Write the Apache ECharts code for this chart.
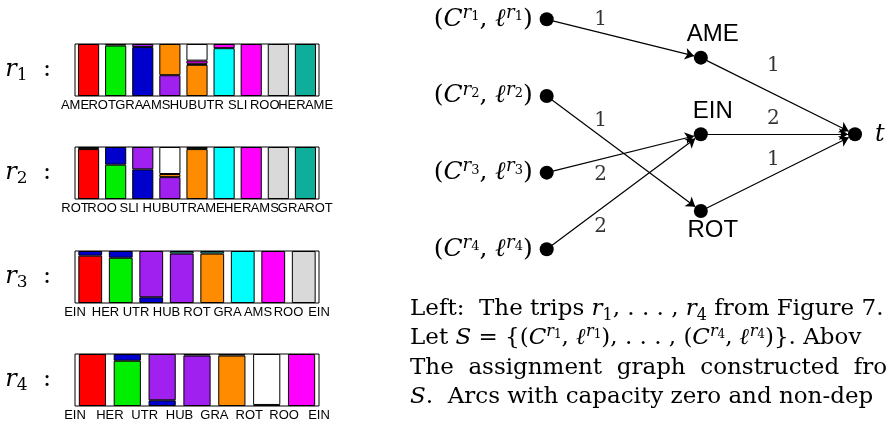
<!DOCTYPE html>
<html>
<head>
<meta charset="utf-8">
<script src="https://cdn.jsdelivr.net/npm/echarts@6/dist/echarts.min.js"></script>
<style>
html, body { margin: 0; padding: 0; background: #fff; }
#chart { width: 889px; height: 427px; }
</style>
</head>
<body>
<div id="chart"></div>
<script>
// trips: stations passed, and for every leg the stacked shares (bottom to top)
const r1Stops = ['AME', 'ROT', 'GRA', 'AMS', 'HUB', 'UTR', 'SLI', 'ROO', 'HER', 'AME'];
const r1Legs = [
  [['red', 1]],
  [['green', 0.97], ['purple', 0.03]],
  [['blue', 0.94], ['purple', 0.06]],
  [['purple', 0.4], ['orange', 0.6]],
  [['orange', 0.6], ['cyan', 0.02], ['magenta', 0.06], ['white', 0.32]],
  [['cyan', 0.92], ['magenta', 0.08]],
  [['magenta', 1]],
  [['gray', 1]],
  [['teal', 1]]
];
const r2Stops = ['ROT', 'ROO', 'SLI', 'HUB', 'UTR', 'AME', 'HER', 'AMS', 'GRA', 'ROT'];
const r2Legs = [
  [['red', 0.96], ['teal', 0.04]],
  [['green', 0.66], ['blue', 0.34]],
  [['blue', 0.57], ['purple', 0.43]],
  [['purple', 0.42], ['orange', 0.06], ['white', 0.52]],
  [['orange', 0.96], ['teal', 0.04]],
  [['cyan', 1]],
  [['magenta', 1]],
  [['gray', 1]],
  [['teal', 1]]
];
const r3Stops = ['EIN', 'HER', 'UTR', 'HUB', 'ROT', 'GRA', 'AMS', 'ROO', 'EIN'];
const r3Legs = [
  [['red', 0.91], ['blue', 0.09]],
  [['green', 0.87], ['blue', 0.13]],
  [['blue', 0.11], ['purple', 0.89]],
  [['purple', 0.95], ['teal', 0.05]],
  [['orange', 0.95], ['teal', 0.05]],
  [['cyan', 1]],
  [['magenta', 1]],
  [['gray', 1]]
];
const r4Stops = ['EIN', 'HER', 'UTR', 'HUB', 'GRA', 'ROT', 'ROO', 'EIN'];
const r4Legs = [
  [['red', 1]],
  [['green', 0.87], ['blue', 0.13]],
  [['blue', 0.11], ['purple', 0.89]],
  [['purple', 0.97], ['teal', 0.03]],
  [['orange', 0.97], ['teal', 0.03]],
  [['teal', 0.02], ['white', 0.98]],
  [['magenta', 1]]
];

// stacking order of the classes, and their colours
const classKeys = ['red', 'green', 'blue', 'purple', 'orange', 'cyan', 'magenta', 'gray', 'teal', 'white'];
const classColors = ['#ff0000', '#00ee00', '#0000cd', '#a020f0', '#ff8c00', '#00ffff', '#ff00ff', '#d9d9d9', '#0fae9b', '#ffffff'];

// assignment graph
const nodeNames = ['s1', 's2', 's3', 's4', 'AME', 'EIN', 'ROT', 't'];
const nodeCol = [0, 0, 0, 0, 1, 1, 1, 2];
const nodeRow = [0, 1, 2, 3, 0.5, 1.5, 2.5, 1.5];
const arcFrom = ['s1', 's2', 's3', 's4', 'AME', 'EIN', 'ROT'];
const arcTo = ['AME', 'ROT', 'EIN', 'EIN', 't', 't', 't'];
const arcCap = [1, 1, 2, 2, 1, 2, 1];

// where the capacity labels sit: share along the arc, then a pixel shift
const capLabelAt = [0.35, 0.35, 0.35, 0.35, 0.47, 0.47, 0.47];
const capLabelShift = [[0, -13], [0, -15], [0, 16], [0, 18], [0, -28], [0, -16], [0, -15]];

const serif = '"DejaVu Serif", "Liberation Serif", serif';
const sans = '"Liberation Sans", Arial, sans-serif';

// rich styles for the little bits of maths, scaled to a base size
function makeRich(s, lh) {
  return {
    n: { fontFamily: serif, fontSize: s, lineHeight: lh, color: '#000' },
    i: { fontFamily: serif, fontSize: s, fontStyle: 'italic', lineHeight: lh, color: '#000' },
    b: { fontFamily: serif, fontSize: s, fontStyle: 'italic', fontWeight: 'bold', lineHeight: lh, color: '#000' },
    sup: { fontFamily: serif, fontSize: Math.round(s * 0.7), fontStyle: 'italic', lineHeight: Math.round(s * 0.75), verticalAlign: 'top', color: '#000' },
    ss: { fontFamily: serif, fontSize: Math.round(s * 0.52), lineHeight: Math.round(s * 0.56), verticalAlign: 'top', padding: [Math.round(s * 0.22), 0, 0, 0], color: '#000' },
    sub: { fontFamily: serif, fontSize: Math.round(s * 0.7), lineHeight: Math.round(s * 0.75), verticalAlign: 'bottom', color: '#000' }
  };
}
const nodeRich = makeRich(25, 30);
const rowRich = makeRich(24, 28);
const captionRich = makeRich(23, 30);

const pair = k => '{i|C}{sup|r}{ss|' + k + '}{n|, }{b|ℓ}{sup|r}{ss|' + k + '}';

const chart = echarts.init(document.getElementById('chart'));

const trips = [
  { stops: r1Stops, legs: r1Legs },
  { stops: r2Stops, legs: r2Legs },
  { stops: r3Stops, legs: r3Legs },
  { stops: r4Stops, legs: r4Legs }
];
const panelTop = [44, 147, 251, 354];

const grid = [];
const xAxis = [];
const yAxis = [];
const series = [];

trips.forEach((trip, k) => {
  grid.push({ left: 75, top: panelTop[k], width: 244, height: 52, show: true, borderColor: '#000', borderWidth: 1 });
  xAxis.push({ type: 'category', gridIndex: k, data: trip.legs.map((_, i) => i), show: false });
  xAxis.push({
    type: 'category', gridIndex: k, position: 'bottom', boundaryGap: false, data: trip.stops,
    axisLine: { show: false }, axisTick: { show: false }, splitLine: { show: false },
    axisLabel: { interval: 0, margin: 3, fontSize: 13, fontFamily: sans, color: '#000' }
  });
  yAxis.push({
    type: 'value', gridIndex: k, min: 0, max: 1,
    axisLine: { show: false }, axisTick: { show: false }, axisLabel: { show: false }, splitLine: { show: false },
    name: '{i|r}{sub|' + (k + 1) + '}{n|  :}', nameLocation: 'middle', nameRotate: 0, nameGap: 24,
    nameTextStyle: { rich: rowRich }
  });
  classKeys.forEach((c, j) => {
    const vals = trip.legs.map(leg => {
      const seg = leg.find(s => s[0] === c);
      return seg ? seg[1] : '-';
    });
    if (vals.every(v => v === '-')) return;
    series.push({
      type: 'bar', name: c, xAxisIndex: 2 * k, yAxisIndex: k, stack: 'trip' + k,
      data: vals, barCategoryGap: '22%', silent: true,
      itemStyle: { color: classColors[j], borderColor: '#000', borderWidth: 1 }
    });
  });
});

// graph panel
grid.push({ left: 546.7, top: 19.3, width: 308.3, height: 230 });
xAxis.push({ type: 'value', gridIndex: 4, min: 0, max: 2, show: false });
yAxis.push({ type: 'value', gridIndex: 4, min: 0, max: 3, inverse: true, show: false });

const nodeLabel = name => {
  if (name[0] === 's') {
    return {
      position: 'left', distance: 7, rich: nodeRich,
      formatter: '{n|(}' + pair(name.slice(1)) + '{n|)}'
    };
  }
  if (name === 't') {
    return { position: 'right', distance: 13, fontFamily: serif, fontStyle: 'italic', fontSize: 24, color: '#000' };
  }
  return {
    position: name === 'ROT' ? 'bottom' : 'top', distance: name === 'ROT' ? 0 : 4, offset: [12, 0],
    fontFamily: sans, fontSize: 24, color: '#000'
  };
};

series.push({
  type: 'graph', coordinateSystem: 'cartesian2d', xAxisIndex: 8, yAxisIndex: 4,
  symbol: 'circle', symbolSize: 14, silent: true,
  itemStyle: { color: '#000' },
  edgeSymbol: ['none', 'arrow'], edgeSymbolSize: [0, 9],
  lineStyle: { color: '#000', width: 1.2, opacity: 1 },
  label: { show: true },
  data: nodeNames.map((n, i) => ({ name: n, value: [nodeCol[i], nodeRow[i]], label: nodeLabel(n) })),
  links: arcFrom.map((f, i) => ({ source: f, target: arcTo[i] }))
});

const posOf = name => {
  const i = nodeNames.indexOf(name);
  return [nodeCol[i], nodeRow[i]];
};
series.push({
  type: 'scatter', xAxisIndex: 8, yAxisIndex: 4, symbolSize: 0, silent: true,
  label: { show: true, position: 'inside', formatter: '{b}', fontFamily: serif, fontSize: 20, color: '#000' },
  data: arcCap.map((cap, i) => {
    const a = posOf(arcFrom[i]);
    const b = posOf(arcTo[i]);
    const f = capLabelAt[i];
    return {
      name: String(cap),
      value: [a[0] + f * (b[0] - a[0]), a[1] + f * (b[1] - a[1])],
      label: { offset: capLabelShift[i] }
    };
  })
});

// caption
const captionLines = [
  'Left:  The trips {i|r}{sub|1}, . . . , {i|r}{sub|4} from Figure 7.',
  'Let {i|S} = {n|{(}' + pair(1) + '{n|), . . . , (}' + pair(4) + '{n|)}}. Abov',
  'The  assignment  graph  constructed  fro',
  '{i|S}.  Arcs with capacity zero and non-dep'
];
const captionTop = [294, 323.5, 353, 382.5];

chart.setOption({
  animation: false,
  backgroundColor: '#fff',
  grid: grid,
  xAxis: xAxis,
  yAxis: yAxis,
  series: series,
  graphic: captionLines.map((line, i) => ({
    type: 'text', x: 410, y: captionTop[i], silent: true,
    style: {
      text: line, fontFamily: serif, fontSize: 23, lineHeight: 30, fill: '#000',
      verticalAlign: 'top', rich: captionRich
    }
  }))
});
</script>
</body>
</html>
